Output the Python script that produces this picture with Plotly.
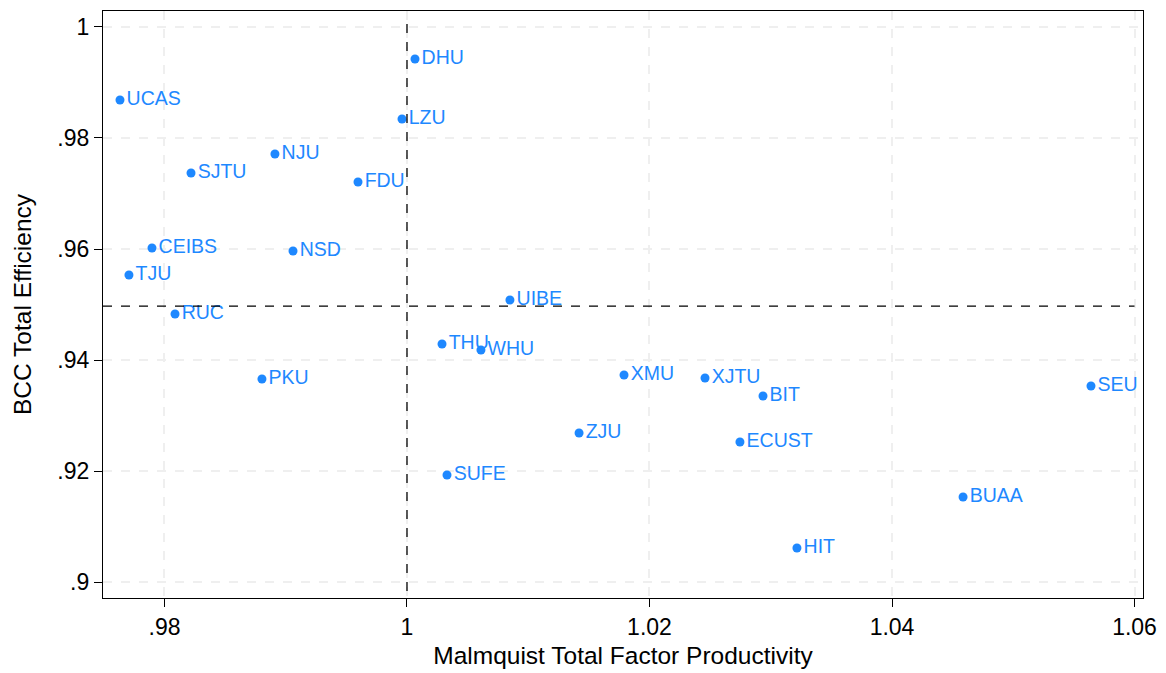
import plotly.graph_objects as go

names = ["UCAS", "DHU", "LZU", "NJU", "SJTU", "FDU", "CEIBS", "NSD", "TJU", "UIBE",
         "RUC", "THU", "WHU", "PKU", "XMU", "XJTU", "BIT", "SEU", "ZJU", "ECUST",
         "SUFE", "BUAA", "HIT"]
tfp = [0.97633, 1.00066, 0.99959, 0.98911, 0.98219, 0.99596, 0.97897, 0.99060, 0.97707, 1.00849,
       0.98087, 1.00289, 1.00610, 0.98804, 1.01790, 1.02458, 1.02936, 1.05641, 1.01419, 1.02746,
       1.00330, 1.04586, 1.03216]
eff = [0.98685, 0.99423, 0.98342, 0.97712, 0.97369, 0.97207, 0.96018, 0.95964, 0.95532, 0.95081,
       0.94829, 0.94288, 0.94180, 0.93658, 0.93730, 0.93676, 0.93351, 0.93532, 0.92685, 0.92523,
       0.91928, 0.91532, 0.90613]
x_ticks = [0.98, 1.0, 1.02, 1.04, 1.06]
x_ticklabels = [".98", "1", "1.02", "1.04", "1.06"]
y_ticks = [0.90, 0.92, 0.94, 0.96, 0.98, 1.0]
y_ticklabels = [".9", ".92", ".94", ".96", ".98", "1"]
x_ref = 1.0
y_ref = 0.9497

blue = "#1E88FF"
font = "Liberation Sans, Arial, sans-serif"

fig = go.Figure()
fig.add_trace(go.Scatter(
    x=tfp, y=eff, mode="markers+text", text=names, textposition="middle right",
    marker=dict(color=blue, size=9),
    textfont=dict(color=blue, size=19.5, family=font),
    showlegend=False, cliponaxis=False,
))

x_range = [0.97493, 1.0607]
y_range = [0.89712, 1.00288]

fig.add_shape(type="line", xref="x", yref="paper", x0=x_ref, x1=x_ref, y0=0.012, y1=0.99,
              line=dict(color="black", width=1.3, dash="dash"))
fig.add_shape(type="line", xref="x", yref="y", x0=x_range[0], x1=1.06, y0=y_ref, y1=y_ref,
              line=dict(color="black", width=1.3, dash="dash"))

axis_common = dict(
    showline=True, linecolor="black", linewidth=1.3, mirror=True,
    ticks="outside", ticklen=8, tickcolor="black", tickwidth=1.3,
    showgrid=True, gridcolor="#EFEFEF", gridwidth=1.5, griddash="dash",
    zeroline=False, tickfont=dict(size=23, color="black", family=font),
    automargin=False,
)
fig.update_xaxes(range=x_range, tickvals=x_ticks, ticktext=x_ticklabels,
                 title=dict(text="Malmquist Total Factor Productivity",
                            font=dict(size=24.5, color="black", family=font), standoff=8),
                 **axis_common)
fig.update_yaxes(range=y_range, tickvals=y_ticks, ticktext=y_ticklabels,
                 title=dict(text="BCC Total Efficiency",
                            font=dict(size=24.5, color="black", family=font), standoff=18),
                 **axis_common)

fig.update_layout(
    width=1166, height=673,
    margin=dict(l=103, r=23, t=11, b=75),
    plot_bgcolor="white", paper_bgcolor="white",
    font=dict(family=font),
)

fig.write_html("out.html")
